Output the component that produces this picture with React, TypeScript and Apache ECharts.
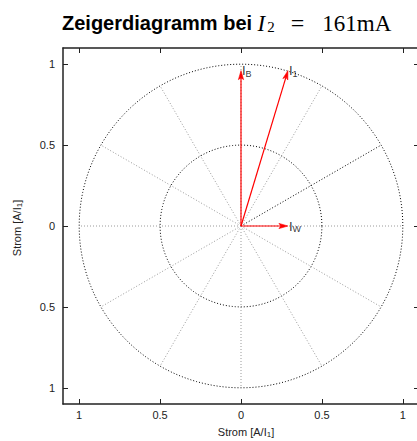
import React, { useEffect, useRef } from "react";
import * as echarts from "echarts";

const tickValues = [-1, -0.5, 0, 0.5, 1];
const axisMin = -1.1;
const axisMax = 1.1;
const radii = [0.5, 1];
const spokeAngles = [0, 30, 60, 90, 120, 150, 180, 210, 240, 270, 300, 330];
const darkSpokeAngle = 30;
const phasorNames = ["B", "1", "W"];
const phasorX = [0, 0.29, 0.29];
const phasorY = [0.96, 0.96, 0];

const SANS = "'Liberation Sans', Arial, Helvetica, sans-serif";
const SERIF = "'Liberation Serif', 'DejaVu Serif', serif";

function circlePoints(r: number): number[][] {
  const pts: number[][] = [];
  for (let a = 0; a <= 360; a += 2) {
    const t = (a * Math.PI) / 180;
    pts.push([r * Math.cos(t), r * Math.sin(t)]);
  }
  return pts;
}

export default function App() {
  const ref = useRef<HTMLDivElement>(null);

  useEffect(() => {
    if (!ref.current) return;
    const chart = echarts.init(ref.current, null, { renderer: "svg" });

    const series: any[] = [];

    radii.forEach((r) => {
      series.push({
        type: "line",
        data: circlePoints(r),
        showSymbol: false,
        symbol: "none",
        silent: true,
        lineStyle: { color: "#000", width: 1, type: [1, 2] },
        z: 1,
      });
    });

    spokeAngles.forEach((a) => {
      const t = (a * Math.PI) / 180;
      const r = radii[radii.length - 1];
      series.push({
        type: "line",
        data: [
          [0, 0],
          [Math.round(r * Math.cos(t) * 1e6) / 1e6, Math.round(r * Math.sin(t) * 1e6) / 1e6],
        ],
        showSymbol: false,
        symbol: "none",
        silent: true,
        lineStyle: {
          color: a === darkSpokeAngle ? "#000" : "#9a9a9a",
          width: 1,
          type: [1, 2],
        },
        z: 1,
      });
    });

    series.push({
      type: "custom",
      coordinateSystem: "cartesian2d",
      data: phasorNames.map((n, i) => [phasorX[i], phasorY[i]]),
      silent: true,
      z: 10,
      renderItem: (params: any, api: any) => {
        const p0 = api.coord([0, 0]);
        const p1 = api.coord([api.value(0), api.value(1)]);
        const dx = p1[0] - p0[0];
        const dy = p1[1] - p0[1];
        const len = Math.sqrt(dx * dx + dy * dy) || 1;
        const ux = dx / len;
        const uy = dy / len;
        const hl = 9;
        const hw = 2.6;
        const bx = p1[0] - ux * hl;
        const by = p1[1] - uy * hl;
        return {
          type: "group",
          children: [
            {
              type: "line",
              shape: { x1: p0[0], y1: p0[1], x2: bx + ux * 2, y2: by + uy * 2 },
              style: { stroke: "#ff0000", lineWidth: 1.2 },
            },
            {
              type: "polygon",
              shape: {
                points: [
                  [p1[0], p1[1]],
                  [bx - uy * hw, by + ux * hw],
                  [bx + ux * 2, by + uy * 2],
                  [bx + uy * hw, by - ux * hw],
                ],
              },
              style: { fill: "#ff0000", stroke: "#ff0000", lineWidth: 0.6 },
            },
          ],
        };
      },
    });

    series.push({
      type: "scatter",
      data: phasorNames.map((n, i) => [phasorX[i], phasorY[i], n]),
      symbolSize: 0,
      silent: true,
      z: 11,
      label: {
        show: true,
        position: "right",
        distance: 1,
        color: "#000",
        formatter: (p: any) => `{i|I}{s|${p.value[2]}}`,
        rich: {
          i: { fontFamily: SANS, fontSize: 13, color: "#000" },
          s: { fontFamily: SANS, fontSize: 9, color: "#000", padding: [6, 0, 0, 0] },
        },
      },
    });

    const lineStyle = { color: "#222", width: 1.5 };
    const tickStyle = { color: "#222", width: 1 };
    const nameRich = {
      a: { fontFamily: SANS, fontSize: 11, fill: "#222", color: "#222" },
      s: { fontFamily: SANS, fontSize: 8, fill: "#222", color: "#222", padding: [5, 0, 0, 0] },
    };

    chart.setOption({
      animation: false,
      backgroundColor: "#fff",
      title: {
        left: 57,
        top: 6,
        text: "{b|Zeigerdiagramm bei }{m|I}{s|2}{e|=}{r|161mA}",
        textStyle: {
          fontWeight: "normal",
          rich: {
            b: { fontFamily: SANS, fontWeight: "bold", fontSize: 20, color: "#000" },
            m: { fontFamily: SERIF, fontStyle: "italic", fontWeight: "normal", fontSize: 23, color: "#000" },
            s: { fontFamily: SERIF, fontWeight: "normal", fontSize: 15, color: "#000", padding: [8, 5, 0, 2] },
            e: { fontFamily: SERIF, fontWeight: "normal", fontSize: 24, color: "#000", padding: [0, 18, 0, 11] },
            r: { fontFamily: SERIF, fontWeight: "normal", fontSize: 23, color: "#000" },
          },
        },
      },
      grid: {
        left: 63,
        top: 48,
        right: -2,
        bottom: 37,
        outerBoundsMode: "none",
      },
      xAxis: [
        {
          type: "value",
          position: "bottom",
          min: axisMin,
          max: axisMax,
          axisLine: { show: true, onZero: false, lineStyle },
          axisTick: { show: true, inside: true, length: 5, customValues: tickValues, lineStyle: tickStyle },
          axisLabel: {
            customValues: tickValues,
            formatter: (v: number) => String(Math.abs(v)),
            fontFamily: SANS,
            fontSize: 11,
            color: "#222",
            margin: 5,
          },
          splitLine: { show: false },
        },
        {
          type: "value",
          position: "top",
          min: axisMin,
          max: axisMax,
          axisLine: { show: true, onZero: false, lineStyle },
          axisTick: { show: true, inside: true, length: 5, customValues: tickValues, lineStyle: tickStyle },
          axisLabel: { show: false },
          splitLine: { show: false },
        },
      ],
      yAxis: [
        {
          type: "value",
          position: "left",
          min: axisMin,
          max: axisMax,
          axisLine: { show: true, onZero: false, lineStyle },
          axisTick: { show: true, inside: true, length: 5, customValues: tickValues, lineStyle: tickStyle },
          axisLabel: {
            customValues: tickValues,
            formatter: (v: number) => String(Math.abs(v)),
            fontFamily: SANS,
            fontSize: 11,
            color: "#222",
            margin: 8,
          },
          splitLine: { show: false },
        },
        {
          type: "value",
          position: "right",
          min: axisMin,
          max: axisMax,
          axisLine: { show: true, onZero: false, lineStyle },
          axisTick: { show: true, inside: true, length: 5, customValues: tickValues, lineStyle: tickStyle },
          axisLabel: { show: false },
          splitLine: { show: false },
        },
      ],
      graphic: [
        {
          type: "text",
          x: 246,
          y: 432,
          style: {
            text: "{a|Strom [A/I}{s|1}{a|]}",
            align: "center",
            verticalAlign: "middle",
            rich: nameRich,
          },
        },
        {
          type: "text",
          x: 17,
          y: 228,
          rotation: Math.PI / 2,
          style: {
            text: "{a|Strom [A/I}{s|1}{a|]}",
            align: "center",
            verticalAlign: "middle",
            rich: nameRich,
          },
        },
      ],
      series,
    });

    return () => chart.dispose();
  }, []);

  return (
    <div
      ref={ref}
      style={{ position: "fixed", left: 0, top: 0, width: 417, height: 441 }}
    />
  );
}
